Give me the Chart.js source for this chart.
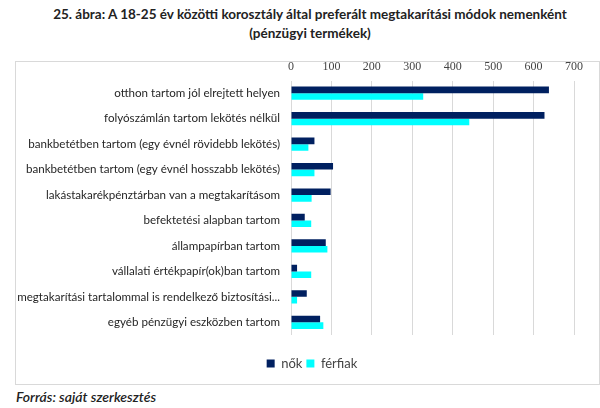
<!DOCTYPE html>
<html>
<head>
<meta charset="utf-8">
<script src="https://cdn.jsdelivr.net/npm/chart.js@4"></script>
<style>
  body { margin: 0; background: #fff; width: 600px; height: 408px; position: relative; overflow: hidden; font-family: Lato, sans-serif; }
  #title { position: absolute; top: 5px; left: 0; width: 620px; text-align: center; font-weight: bold; font-size: 13.5px; line-height: 19px; color: #222; }
  #box { position: absolute; left: 15px; top: 61px; width: 583px; height: 322px; border: 1px solid #d9d9d9; }
  #source { position: absolute; left: 16px; top: 388px; font-style: italic; font-weight: 600; font-size: 14px; color: #222; }
</style>
</head>
<body>
<div id="title">25. ábra: A 18-25 év közötti korosztály által preferált megtakarítási módok nemenként<br>(pénzügyi termékek)</div>
<div id="box"><canvas id="chart" width="583" height="322"></canvas></div>
<div id="source">Forrás: saját szerkesztés</div>
<script>
// categories and values
const categories = [
    'otthon tartom jól elrejtett helyen',
    'folyószámlán tartom lekötés nélkül',
    'bankbetétben tartom (egy évnél rövidebb lekötés)',
    'bankbetétben tartom (egy évnél hosszabb lekötés)',
    'lakástakarékpénztárban van a megtakarításom',
    'befektetési alapban tartom',
    'állampapírban tartom',
    'vállalati értékpapír(ok)ban tartom',
    'megtakarítási tartalommal is rendelkező biztosítási...',
    'egyéb pénzügyi eszközben tartom',
];
const nok = [638, 627, 58, 104, 98, 34, 86, 15, 39, 72];
const ferfiak = [327, 441, 43, 58, 51, 50, 90, 50, 15, 80];
const xTicks = [0, 100, 200, 300, 400, 500, 600, 700];

// move the legend row to where it sits in the original
const legendShift = {
    id: 'legendShift',
    afterLayout(chart) {
        const lg = chart.legend;
        lg.top = 291;
        lg.bottom = chart.height;
        lg.left += 17;
        lg.right += 17;
    },
};

const ctx = document.getElementById('chart').getContext('2d');
new Chart(ctx, {
    type: 'bar',
    data: {
        labels: categories,
        datasets: [
            { label: 'nők', data: nok, backgroundColor: '#002060' },
            { label: 'férfiak', data: ferfiak, backgroundColor: '#00ffff' },
        ],
    },
    options: {
        indexAxis: 'y',
        responsive: false,
        animation: false,
        categoryPercentage: 0.52,
        barPercentage: 1,
        layout: { padding: { left: 0, right: 25, top: 0, bottom: 22 } },
        scales: {
            x: {
                position: 'top',
                min: 0,
                max: 700,
                afterBuildTicks: (scale) => { scale.ticks = xTicks.map(v => ({ value: v })); },
                afterFit: (scale) => { scale.height = 18.5; },
                grid: { color: '#d9d9d9', drawTicks: false },
                border: { display: false },
                ticks: { color: '#444', padding: 6, font: { family: 'Liberation Serif', size: 12 } },
            },
            y: {
                afterFit: (scale) => { scale.width = 275; },
                grid: { display: false, drawTicks: false },
                border: { display: false },
                ticks: { color: '#262626', padding: 11, autoSkip: false, font: { family: 'Lato', size: 11.6 } },
            },
        },
        plugins: {
            legend: {
                position: 'bottom',
                labels: { boxWidth: 8, boxHeight: 8, color: '#444', padding: 4, font: { family: 'Lato', size: 13 } },
            },
            tooltip: { enabled: false },
        },
    },
    plugins: [legendShift],
});
</script>
</body>
</html>
